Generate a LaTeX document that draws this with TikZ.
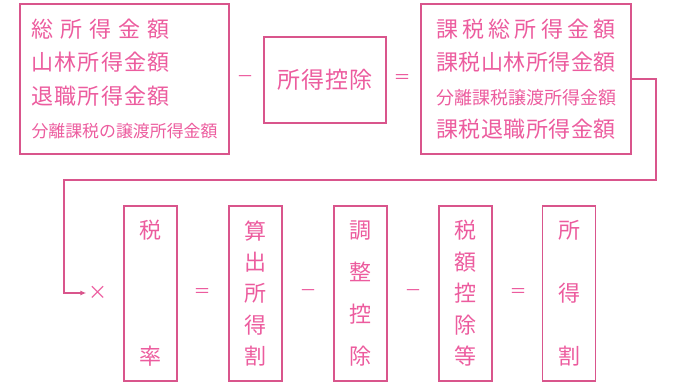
\documentclass[tikz,border=0pt]{standalone}
\usepackage{fontspec}
\setmainfont{Noto Sans CJK JP}
\usetikzlibrary{arrows.meta}
\definecolor{pinkline}{HTML}{D9558C}
\definecolor{pinktext}{HTML}{EC5C9E}
\newcommand{\spl}[2]{\makebox[#1][s]{#2}}
\newcommand{\hlines}[1]{\vbox{\baselineskip=33.5pt\lineskiplimit=0pt #1}}
\newcommand{\vchars}[2]{\vbox to #1{#2}}
\begin{document}
\begin{tikzpicture}[x=1pt,y=-1pt,
  box/.style={draw=pinkline, line width=1.6pt, inner sep=0pt, text=pinktext},
  vbox/.style={box, minimum width=53, minimum height=175, font=\fontsize{22}{22}\selectfont},
  op/.style={text=pinktext, inner sep=0pt, font=\fontsize{17}{17}\selectfont},
  conn/.style={draw=pinkline, line width=1.4pt}]
\useasboundingbox (0,0) rectangle (696,385);
% top row
\node[box, minimum width=209, minimum height=150] (b1) at (124.5,79) {\hlines{%
  \hbox{\fontsize{22}{22}\selectfont\spl{138pt}{総\hfill 所\hfill 得\hfill 金\hfill 額}\hskip48pt}
  \hbox{\fontsize{22}{22}\selectfont\spl{138pt}{山\hfill 林\hfill 所\hfill 得\hfill 金\hfill 額}\hskip48pt}
  \hbox{\fontsize{22}{22}\selectfont\spl{138pt}{退\hfill 職\hfill 所\hfill 得\hfill 金\hfill 額}\hskip48pt}
  \hbox{\fontsize{16.9}{16.9}\selectfont\spl{186pt}{分\hfill 離\hfill 課\hfill 税\hfill の\hfill 譲\hfill 渡\hfill 所\hfill 得\hfill 金\hfill 額}}}};
\node[op] (m1) at (245,79) {－};
\node[box, minimum width=122, minimum height=86, font=\fontsize{23}{23}\selectfont] (b2) at (325,80) {\spl{95pt}{所\hfill 得\hfill 控\hfill 除}};
\node[op] (e1) at (402,79) {＝};
\node[box, minimum width=210, minimum height=150] (b3) at (526,79) {\hlines{%
  \hbox{\fontsize{22}{22}\selectfont\spl{180pt}{課\hfill 税\hfill 総\hfill 所\hfill 得\hfill 金\hfill 額}}
  \hbox{\fontsize{22}{22}\selectfont\spl{180pt}{課\hfill 税\hfill 山\hfill 林\hfill 所\hfill 得\hfill 金\hfill 額}}
  \hbox{\fontsize{18}{18}\selectfont\spl{180pt}{分\hfill 離\hfill 課\hfill 税\hfill 譲\hfill 渡\hfill 所\hfill 得\hfill 金\hfill 額}}
  \hbox{\fontsize{22}{22}\selectfont\spl{180pt}{課\hfill 税\hfill 退\hfill 職\hfill 所\hfill 得\hfill 金\hfill 額}}}};
% connector
\coordinate (c1) at (656,79);
\coordinate (c2) at (656,180);
\coordinate (c3) at (64,180);
\coordinate (c4) at (64,293);
\node[op, font=\fontsize{19}{19}\selectfont] (x) at (98,293) {×};
\draw[conn, -{Latex[length=6pt,width=5pt]}, shorten >=2pt] (b3.east |- c1) -- (c1) -- (c2) -- (c3) -- (c4) -- (x.west);
% bottom row
\node[vbox] (r1) at (150.5,293.5) {\vchars{144.4pt}{\hbox{税}\vfill\hbox{率}}};
\node[op] (e2) at (202,293) {＝};
\node[vbox] (r2) at (255.5,293.5) {\vchars{144.4pt}{\hbox{算}\vfill\hbox{出}\vfill\hbox{所}\vfill\hbox{得}\vfill\hbox{割}}};
\node[op] (m2) at (308,293) {－};
\node[vbox] (r3) at (360.5,293.5) {\vchars{144.4pt}{\hbox{調}\vfill\hbox{整}\vfill\hbox{控}\vfill\hbox{除}}};
\node[op] (m3) at (413,293) {－};
\node[vbox] (r4) at (465.5,293.5) {\vchars{144.4pt}{\hbox{税}\vfill\hbox{額}\vfill\hbox{控}\vfill\hbox{除}\vfill\hbox{等}}};
\node[op] (e3) at (518,293) {＝};
\node[vbox] (r5) at (569,293.5) {\vchars{144.4pt}{\hbox{所}\vfill\hbox{得}\vfill\hbox{割}}};
\end{tikzpicture}
\end{document}
